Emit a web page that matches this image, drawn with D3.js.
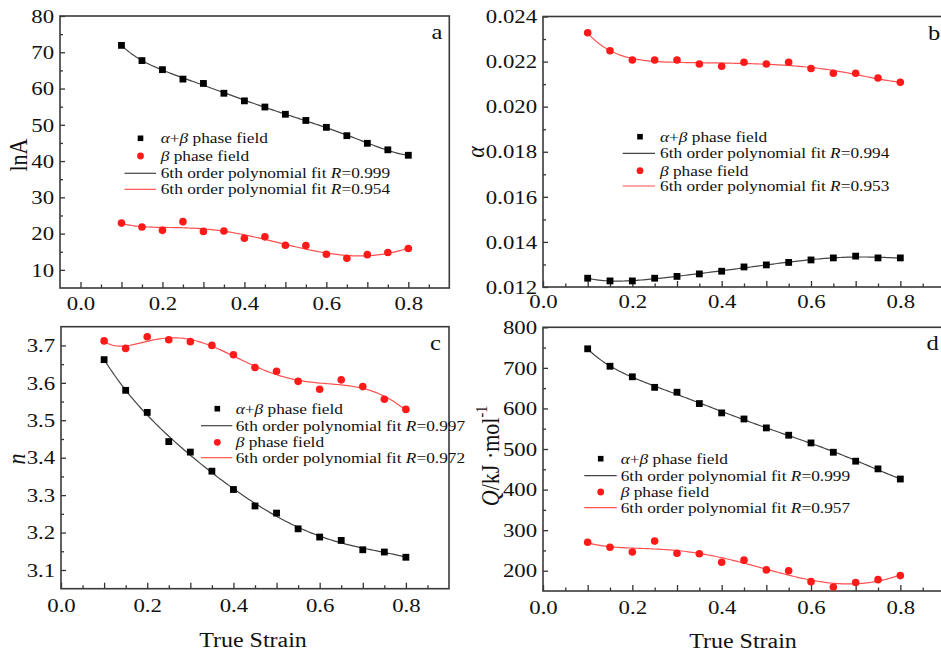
<!DOCTYPE html>
<html><head><meta charset="utf-8">
<script src="https://cdn.jsdelivr.net/npm/d3@7"></script>
<style>body{margin:0;background:#fff} svg{display:block} text{white-space:pre}</style>
</head><body><svg id="c" width="941" height="654"></svg>
<script>
// ---------- data ----------
const strain = [0.10,0.15,0.20,0.25,0.30,0.35,0.40,0.45,0.50,0.55,0.60,0.65,0.70,0.75,0.80];

const lnA_alphaBeta = [71.9,67.7,65.2,62.6,61.4,58.7,56.6,54.9,52.9,51.2,49.3,47.0,44.9,43.1,41.6];
const lnA_beta      = [22.9,21.8,20.9,23.3,20.6,20.7,18.7,19.1,16.8,16.7,14.3,13.2,14.2,14.8,15.9];

const alpha_alphaBeta = [0.01239,0.01227,0.01227,0.01239,0.01247,0.01258,0.01270,0.01289,0.01298,0.01309,0.01320,0.01329,0.01337,0.01329,0.01329];
const alpha_beta      = [0.02328,0.02248,0.02207,0.02207,0.02207,0.02189,0.02179,0.02197,0.02189,0.02197,0.02169,0.02148,0.02148,0.02127,0.02108];

const n_alphaBeta = [3.662,3.580,3.521,3.443,3.415,3.364,3.315,3.271,3.252,3.210,3.188,3.179,3.154,3.148,3.134];
const n_beta      = [3.712,3.692,3.723,3.715,3.710,3.700,3.675,3.641,3.631,3.604,3.583,3.608,3.590,3.556,3.529];

const Q_alphaBeta = [747,704,678,652,640,612,589,574,552,534,515,492,470,451,426];
const Q_beta      = [270,258,246,273,243,242,221,226,202,200,173,160,171,178,188];

const xMajorTicks = [0,0.1,0.2,0.3,0.4,0.5,0.6,0.7,0.8];
const xMinorTicks = [0.05,0.15,0.25,0.35,0.45,0.55,0.65,0.75,0.85];
const xTickLabels = ["0.0","","0.2","","0.4","","0.6","","0.8"];

const lnA_ticks = [10,20,30,40,50,60,70,80];
const lnA_minor = [15,25,35,45,55,65,75];
const alpha_ticks = [0.012,0.014,0.016,0.018,0.020,0.022,0.024];
const alpha_minor = [0.013,0.015,0.017,0.019,0.021,0.023];
const n_ticks = [3.1,3.2,3.3,3.4,3.5,3.6,3.7];
const n_minor = [3.15,3.25,3.35,3.45,3.55,3.65];
const Q_ticks = [200,300,400,500,600,700,800];
const Q_minor = [250,350,450,550,650,750];

const labAB = "α+β phase field";
const labB = "β phase field";
const fitR = {a:["0.999","0.954"], b:["0.994","0.953"], c:["0.997","0.972"], d:["0.999","0.957"]};

// ---------- helpers ----------
const svg = d3.select("#c");
const FONT = "'Liberation Serif','Times New Roman',serif";
const SX = 1.17;
const RED = "#ff1a1a", RED_LINE = "#ff5050", BLACK = "#000", BLACK_LINE = "#444";

function polyfit(xs, ys, deg) {
  const c0 = 0.45, s0 = 0.35;
  const m = deg + 1;
  const M = Array.from({length:m}, () => new Array(m+1).fill(0));
  xs.forEach((x,i) => {
    const t = (x - c0)/s0;
    const p = []; for (let k=0;k<m;k++) p.push(Math.pow(t,k));
    for (let r=0;r<m;r++){ for (let c=0;c<m;c++) M[r][c]+=p[r]*p[c]; M[r][m]+=p[r]*ys[i]; }
  });
  for (let col=0; col<m; col++) {
    let piv = col;
    for (let r=col+1;r<m;r++) if (Math.abs(M[r][col])>Math.abs(M[piv][col])) piv=r;
    [M[col],M[piv]]=[M[piv],M[col]];
    for (let r=0;r<m;r++) if (r!==col) {
      const f = M[r][col]/M[col][col];
      for (let c=col;c<=m;c++) M[r][c]-=f*M[col][c];
    }
  }
  const coef = M.map((row,i)=>row[m]/row[i]);
  return x => { const t=(x-c0)/s0; let v=0; for (let k=m-1;k>=0;k--) v=v*t+coef[k]; return v; };
}

function stretchText(sel){ sel.attr("transform", function(){ return "scale("+SX+",1)"; }); }

function panel(cfg) {
  const g = svg.append("g");
  const x = d3.scaleLinear().domain(cfg.xDomain).range([cfg.left, cfg.right]);
  const y = d3.scaleLinear().domain(cfg.yDomain).range([cfg.bottom, cfg.top]);

  // axes: majors
  const xa = g.append("g").attr("transform",`translate(0,${cfg.bottom})`)
    .call(d3.axisBottom(x).tickValues(xMajorTicks).tickSize(-6).tickPadding(cfg.xPad)
      .tickFormat((d,i)=>xTickLabels[i]));
  const xm = g.append("g").attr("transform",`translate(0,${cfg.bottom})`)
    .call(d3.axisBottom(x).tickValues(xMinorTicks).tickSize(-3.5).tickFormat(""));
  const ya = g.append("g").attr("transform",`translate(${cfg.left},0)`)
    .call(d3.axisLeft(y).tickValues(cfg.yTicks).tickSize(-5).tickPadding(5).tickFormat(cfg.yFmt));
  const ym = g.append("g").attr("transform",`translate(${cfg.left},0)`)
    .call(d3.axisLeft(y).tickValues(cfg.yMinor).tickSize(-3).tickFormat(""));
  [xa,xm,ya,ym].forEach(a=>{
    a.select(".domain").remove();
    a.selectAll("line").attr("stroke","#333").attr("stroke-width",1.3);
    a.selectAll("text").attr("font-family",FONT).attr("font-size",19.5).attr("fill","#111").call(stretchText);
  });

  // frame
  g.append("rect").attr("x",cfg.left).attr("y",cfg.top)
    .attr("width",cfg.right-cfg.left).attr("height",cfg.bottom-cfg.top)
    .attr("fill","none").attr("stroke","#3a3a3a").attr("stroke-width",1.6);

  // fits
  const xsFine = d3.range(0.1, 0.80001, 0.005);
  const line = d3.line().x(d=>x(d[0])).y(d=>y(d[1]));
  [[cfg.black,BLACK_LINE],[cfg.red,RED_LINE]].forEach(([vals,col])=>{
    const f = polyfit(strain, vals, 6);
    g.append("path").datum(xsFine.map(v=>[v,f(v)])).attr("d",line)
      .attr("fill","none").attr("stroke",col).attr("stroke-width",1.2);
  });

  // markers
  g.append("g").selectAll("rect").data(strain).join("rect")
    .attr("x",(d)=>x(d)-3.4).attr("y",(d,i)=>y(cfg.black[i])-3.4)
    .attr("width",6.8).attr("height",6.8).attr("fill",BLACK);
  g.append("g").selectAll("circle").data(strain).join("circle")
    .attr("cx",d=>x(d)).attr("cy",(d,i)=>y(cfg.red[i])).attr("r",3.8).attr("fill",RED);

  // legend
  const L = cfg.legend;
  L.rows.forEach(r=>{
    if (r.k==="sq") g.append("rect").attr("x",L.mx-2.8).attr("y",r.y-2.8).attr("width",5.6).attr("height",5.6).attr("fill",BLACK);
    if (r.k==="ci") g.append("circle").attr("cx",L.mx).attr("cy",r.y).attr("r",3.4).attr("fill",RED);
    if (r.k==="lk"||r.k==="lr") g.append("line").attr("x1",L.l0).attr("x2",L.l1).attr("y1",r.y).attr("y2",r.y)
      .attr("stroke",r.k==="lk"?BLACK_LINE:RED_LINE).attr("stroke-width",1.2);
    const t = g.append("text").attr("transform",`translate(${L.tx},${r.y}) scale(${SX},1)`)
      .attr("dy","0.33em").attr("font-family",FONT).attr("font-size",14.8).attr("fill","#111");
    if (r.k==="sq") { t.append("tspan").attr("font-style","italic").text("α"); t.append("tspan").text("+");
      t.append("tspan").attr("font-style","italic").text("β"); t.append("tspan").text(" phase field"); }
    if (r.k==="ci") { t.append("tspan").attr("font-style","italic").text("β"); t.append("tspan").text(" phase field"); }
    if (r.k==="lk"||r.k==="lr") { t.append("tspan").text("6th order polynomial fit ");
      t.append("tspan").attr("font-style","italic").text("R");
      t.append("tspan").text("="+(r.k==="lk"?cfg.R[0]:cfg.R[1])); }
  });

  // panel letter
  g.append("text").attr("transform",`translate(${cfg.letter[1]},${cfg.letter[2]}) scale(${SX},1)`)
    .attr("font-family",FONT).attr("font-size",21).attr("fill","#111").text(cfg.letter[0]);

  // y title
  const yt = g.append("text").attr("transform",`translate(${cfg.yt.x},${cfg.yt.y}) rotate(-90) scale(1,${SX})`)
    .attr("text-anchor","middle").attr("dominant-baseline","central")
    .attr("font-family",FONT).attr("font-size",22).attr("fill","#111");
  cfg.yt.build(yt);

  if (cfg.xt) g.append("text").attr("transform",`translate(${cfg.xt.x},${cfg.xt.y}) scale(${SX},1)`)
    .attr("text-anchor","middle").attr("font-family",FONT).attr("font-size",20.5).attr("fill","#111").text("True Strain");
}

panel({left:60,right:449.3,top:16,bottom:288,xDomain:[-0.05,0.9],yDomain:[5,80],xPad:8,
  yTicks:lnA_ticks,yMinor:lnA_minor,yFmt:d3.format("d"),black:lnA_alphaBeta,red:lnA_beta,R:fitR.a,
  legend:{mx:140.5,l0:124.5,l1:156,tx:160.7,rows:[{k:"sq",y:138.3},{k:"ci",y:156},{k:"lk",y:173.3},{k:"lr",y:189.3}]},
  letter:["a",431.5,38.5],
  yt:{x:18,y:155,build:t=>t.text("lnA")}});

panel({left:543,right:945,top:16.5,bottom:287,xDomain:[0,0.9],yDomain:[0.012,0.024],xPad:7.5,
  yTicks:alpha_ticks,yMinor:alpha_minor,yFmt:d3.format(".3f"),black:alpha_alphaBeta,red:alpha_beta,R:fitR.b,
  legend:{mx:640,l0:622.7,l1:655,tx:660,rows:[{k:"sq",y:136.7},{k:"lk",y:153.3},{k:"ci",y:170.7},{k:"lr",y:186}]},
  letter:["b",928,39.5],
  yt:{x:475,y:152,build:t=>t.attr("font-style","italic").text("α")}});

panel({left:61,right:449,top:326.7,bottom:588.7,xDomain:[0,0.9],yDomain:[3.05,3.75],xPad:9,
  yTicks:n_ticks,yMinor:n_minor,yFmt:d3.format(".1f"),black:n_alphaBeta,red:n_beta,R:fitR.c,
  legend:{mx:217.3,l0:201,l1:232.3,tx:235.7,rows:[{k:"sq",y:408.7},{k:"lk",y:425.7},{k:"ci",y:442.3},{k:"lr",y:457.7}]},
  letter:["c",430,350],
  yt:{x:16.5,y:459,build:t=>t.attr("font-style","italic").text("n")},
  xt:{x:253,y:647}});

panel({left:543,right:945,top:327.3,bottom:591,xDomain:[0,0.9],yDomain:[150,800],xPad:9.5,
  yTicks:Q_ticks,yMinor:Q_minor,yFmt:d3.format("d"),black:Q_alphaBeta,red:Q_beta,R:fitR.d,
  legend:{mx:600.7,l0:584.3,l1:616.7,tx:620.7,rows:[{k:"sq",y:458.7},{k:"lk",y:475.7},{k:"ci",y:492},{k:"lr",y:507.7}]},
  letter:["d",926.5,350],
  yt:{x:490,y:456,build:t=>{t.append("tspan").attr("font-style","italic").text("Q");
    t.append("tspan").text("/kJ ·mol");
    t.append("tspan").attr("font-size",14).attr("dy","-0.55em").text("-1");}},
  xt:{x:743,y:648}});
</script></body></html>
